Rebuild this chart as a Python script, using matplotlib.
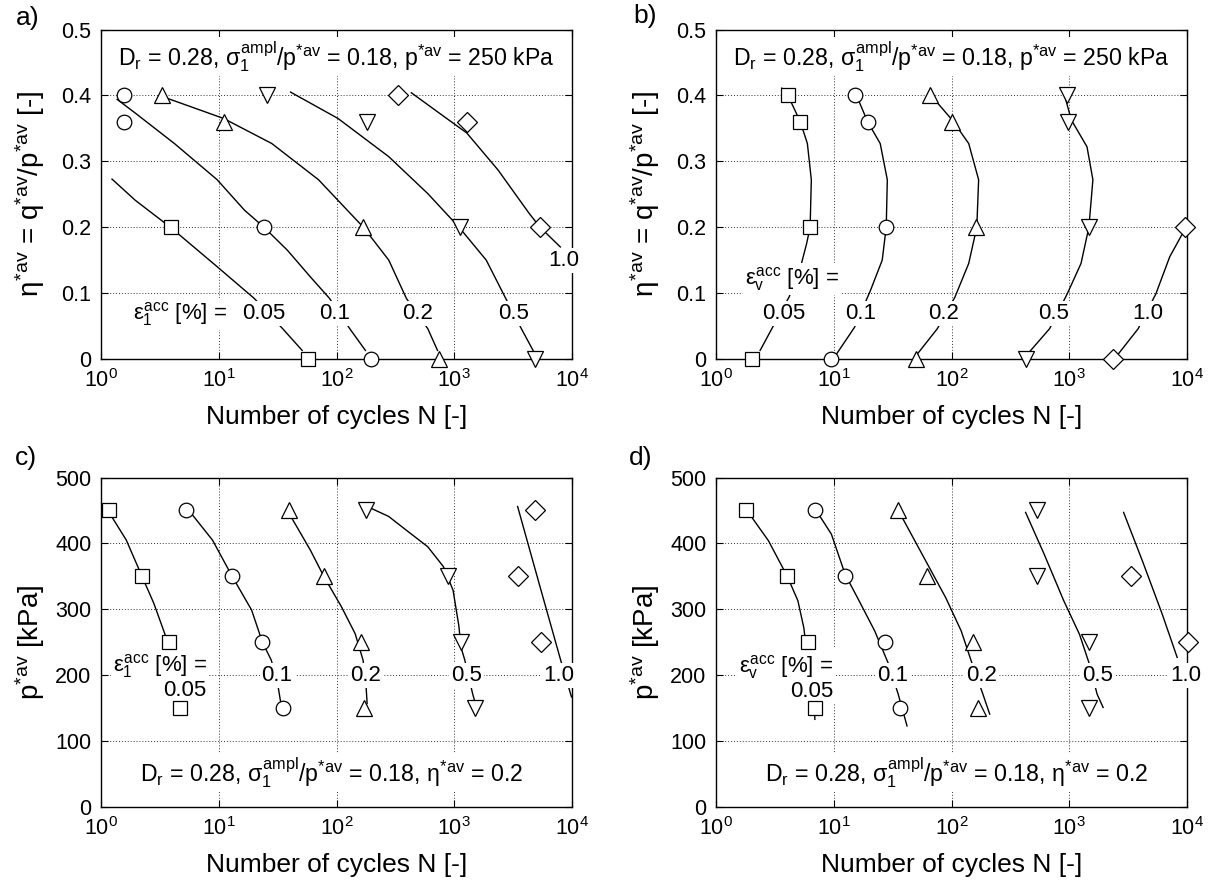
import numpy as np
import matplotlib.pyplot as plt
from matplotlib.ticker import LogLocator, FixedLocator, FuncFormatter

plt.rcParams['font.family'] = ['Liberation Sans', 'DejaVu Sans']
plt.rcParams['mathtext.fontset'] = 'custom'
plt.rcParams['mathtext.rm'] = 'Liberation Sans'
plt.rcParams['mathtext.it'] = 'Liberation Sans'
plt.rcParams['mathtext.bf'] = 'Liberation Sans:bold'
plt.rcParams['mathtext.sf'] = 'Liberation Sans'

# ---------------- data ----------------
LEVELS = ['0.05', '0.1', '0.2', '0.5', '1.0']
MARKERS = ['s', 'o', '^', 'v', 'D']
MSIZES = [10, 10.5, 11.5, 11.5, 10]

# a) eps_1^acc, eta variable
a_mark_N = [[3.9, 57], [1.56, 1.56, 24.2, 197], [3.3, 11, 169, 748],
            [25.8, 183, 1120, 4840], [336, 1276, 5350]]
a_mark_eta = [[0.2, 0.0], [0.4, 0.36, 0.2, 0.0], [0.4, 0.36, 0.2, 0.0],
              [0.4, 0.36, 0.2, 0.0], [0.4, 0.36, 0.2]]
a_curve_N = [[1.24, 1.95, 3.88, 6.14, 9.7, 20.0, 34.9, 51.1],
             [1.37, 1.96, 4.2, 9.7, 16.5, 24.2, 38.3, 60.4, 87.2, 129.6, 176],
             [3.6, 11.0, 28.2, 70.4, 169, 278, 392, 596, 721],
             [40.7, 103, 278, 596, 1122, 1870, 2735, 3714, 4670],
             [432, 748, 1277, 2350, 4325, 5350, 7960]]
a_curve_eta = [[0.273, 0.241, 0.2, 0.170, 0.140, 0.092, 0.046, 0.013],
               [0.394, 0.373, 0.327, 0.272, 0.226, 0.2, 0.165, 0.124, 0.092, 0.046, 0.013],
               [0.396, 0.365, 0.327, 0.272, 0.2, 0.150, 0.092, 0.046, 0.013],
               [0.405, 0.365, 0.307, 0.251, 0.198, 0.150, 0.092, 0.046, 0.013],
               [0.404, 0.373, 0.343, 0.287, 0.221, 0.2, 0.170]]

# b) eps_v^acc, eta variable
b_mark_N = [[4.06, 5.2, 6.3, 2.03], [15.2, 19.4, 27.9, 9.5], [66, 101, 160, 49.6],
            [962, 985, 1468, 429], [9700, 2333]]
b_mark_eta = [[0.4, 0.36, 0.2, 0.0], [0.4, 0.36, 0.2, 0.0], [0.4, 0.36, 0.2, 0.0],
              [0.4, 0.36, 0.2, 0.0], [0.2, 0.0]]
b_curve_N = [[3.62, 4.39, 5.2, 5.97, 6.45, 6.3, 5.88, 5.32, 4.2, 2.98, 2.37],
             [16.2, 19.4, 24.8, 28.5, 27.9, 25.8, 20.5, 15.0, 10.6],
             [70, 101, 140, 170, 164, 140, 107, 75.8, 51.5],
             [926, 1040, 1415, 1588, 1468, 1259, 962, 681, 445],
             [9330, 7130, 5445, 3850, 2620]]
b_curve_eta = [[0.411, 0.388, 0.360, 0.327, 0.272, 0.2, 0.175, 0.145, 0.095, 0.046, 0.013],
               [0.393, 0.36, 0.327, 0.272, 0.2, 0.150, 0.104, 0.048, 0.008],
               [0.396, 0.363, 0.327, 0.272, 0.2, 0.145, 0.094, 0.046, 0.008],
               [0.396, 0.363, 0.322, 0.272, 0.2, 0.145, 0.099, 0.046, 0.008],
               [0.193, 0.155, 0.099, 0.046, 0.008]]

# c) eps_1^acc, p variable
c_mark_N = [[1.16, 2.23, 3.81, 4.72], [5.26, 13.0, 23.5, 35], [39.3, 78, 160, 171],
            [177, 885, 1138, 1510], [4875, 3450, 5470]]
c_mark_p = [[450, 350, 250, 150], [450, 350, 250, 150], [450, 350, 250, 150],
            [450, 350, 250, 150], [450, 350, 250]]
c_curve_N = [[1.21, 1.64, 2.23, 2.81, 3.40, 3.81, 4.18, 4.51],
             [5.81, 8.85, 13.0, 19.0, 23.5, 27.9, 31.3, 33.7],
             [40.9, 59.9, 78, 110, 144, 168, 177, 182],
             [182, 277, 405, 595, 807, 977, 1096, 1138, 1229, 1432, 1511],
             [3452, 5260, 8010, 9900]]
c_curve_p = [[443, 405, 350, 309, 268, 243, 208, 157],
             [446, 405, 350, 299, 250, 223, 192, 157],
             [441, 390, 350, 304, 263, 223, 192, 157],
             [456, 441, 418, 395, 365, 329, 274, 243, 223, 172, 157],
             [456, 339, 223, 167]]

# d) eps_v^acc, p variable
d_mark_N = [[1.80, 4.03, 6.0, 6.9], [6.9, 12.5, 27.4, 36.7], [35.3, 61.5, 153, 167],
            [536, 536, 1482, 1482], [3375, 10160]]
d_mark_p = [[450, 350, 250, 150], [450, 350, 250, 150], [450, 350, 250, 150],
            [450, 350, 250, 150], [350, 250]]
d_curve_N = [[1.97, 2.79, 4.03, 4.96, 5.57, 5.70, 6.25, 6.75, 6.91],
             [7.58, 9.55, 12.5, 16.4, 22.3, 29.2, 35.3, 41.9],
             [38.2, 60.6, 89.1, 121, 150, 185, 211],
             [426, 611, 898, 1222, 1482, 1726, 1940],
             [2895, 4190, 6150, 8250]]
d_curve_p = [[442, 404, 350, 313, 272, 257, 227, 181, 133],
             [442, 414, 353, 313, 267, 217, 171, 123],
             [439, 373, 318, 267, 217, 171, 141],
             [447, 384, 313, 262, 217, 171, 151],
             [447, 373, 293, 227]]

# label anchors (data coordinates); None = the level is written under the epsilon label
a_lab = [(24, 0.0685), (95.5, 0.0685), (492, 0.0685), (3160, 0.0685), (8590, 0.15)]
b_lab = [(3.76, 0.0685), (16.9, 0.0685), (85, 0.0685), (735, 0.0685), (4670, 0.0685)]
c_lab = [None, (31.3, 200), (177, 200), (1277, 200), (7710, 200)]
d_lab = [None, (31.5, 200), (181, 200), (1727, 200), (9770, 200)]

EPS1 = r'$\varepsilon_1^{\mathregular{acc}}$ [%] ='
EPSV = r'$\varepsilon_v^{\mathregular{acc}}$ [%] ='
TOP_TXT = r'D$_\mathregular{r}$ = 0.28, $\sigma_1^{\mathregular{ampl}}$/p$^{\mathregular{*av}}$ = 0.18, p$^{\mathregular{*av}}$ = 250 kPa'
BOT_TXT = r'D$_\mathregular{r}$ = 0.28, $\sigma_1^{\mathregular{ampl}}$/p$^{\mathregular{*av}}$ = 0.18, $\eta^{\mathregular{*av}}$ = 0.2'
YLAB_ETA = r'$\eta^{\mathregular{*av}}$ = q$^{\mathregular{*av}}$/p$^{\mathregular{*av}}$ [-]'
YLAB_P = r'p$^{\mathregular{*av}}$ [kPa]'

TICK_FS = 15.5
LAB_FS = 16
INFO_FS = 16.7
AX_FS = 19
YAX_FS = 20
BOX = dict(fc='white', ec='none', pad=1.5)


def draw_panel(ax, cN, cy, mN, my, lab_xy, ymax, ystep):
    ax.set_xscale('log')
    ax.set_xlim(1, 1e4)
    ax.set_ylim(0, ymax)
    ax.xaxis.set_major_locator(LogLocator(base=10, numticks=10))
    ax.xaxis.set_minor_locator(FixedLocator([]))
    ax.yaxis.set_major_locator(FixedLocator(np.arange(0, ymax + ystep / 2, ystep)))
    ax.yaxis.set_major_formatter(FuncFormatter(lambda v, p: '%g' % round(v, 3)))
    ax.grid(True, which='major', color='#333333', ls=(0, (1, 2)), lw=0.7, zorder=0)
    ax.tick_params(direction='in', length=5, width=0.8, top=True, right=True,
                   labelsize=TICK_FS, pad=7)
    for s in ax.spines.values():
        s.set_linewidth(1.0)

    for xs, ys in zip(cN, cy):
        ax.plot(xs, ys, color='black', lw=1.0, zorder=2)
    for xs, ys, m, ms in zip(mN, my, MARKERS, MSIZES):
        ax.plot(xs, ys, ls='none', marker=m, ms=ms, mfc='white', mec='black',
                mew=0.9, zorder=5, clip_on=False)
    for lev, xy in zip(LEVELS, lab_xy):
        if xy is None:
            continue
        ax.text(xy[0], xy[1], lev, ha='center', va='center', fontsize=LAB_FS,
                zorder=4, bbox=BOX)


fig = plt.figure(figsize=(12.15, 8.91), dpi=100)
W, H = 1215.0, 891.0
aw, ah = 471, 329.5
pos = {'a': (101, 29.5), 'b': (716, 29.5), 'c': (101, 477.5), 'd': (716, 477.5)}
axes = {}
for k, (x0, y0) in pos.items():
    axes[k] = fig.add_axes([x0 / W, 1 - (y0 + ah) / H, aw / W, ah / H])

ax = axes['a']
draw_panel(ax, a_curve_N, a_curve_eta, a_mark_N, a_mark_eta, a_lab, 0.5, 0.1)
ax.text(4.7, 0.0685, EPS1, ha='center', va='center', fontsize=LAB_FS, zorder=4, bbox=BOX)
ax.text(0.5, 0.918, TOP_TXT, transform=ax.transAxes, ha='center', va='center',
        fontsize=INFO_FS, zorder=4, bbox=BOX)
ax.set_ylabel(YLAB_ETA, fontsize=YAX_FS, va='center')

ax = axes['b']
draw_panel(ax, b_curve_N, b_curve_eta, b_mark_N, b_mark_eta, b_lab, 0.5, 0.1)
ax.text(4.4, 0.122, EPSV, ha='center', va='center', fontsize=LAB_FS, zorder=4, bbox=BOX)
ax.text(0.5, 0.918, TOP_TXT, transform=ax.transAxes, ha='center', va='center',
        fontsize=INFO_FS, zorder=4, bbox=BOX)
ax.set_ylabel(YLAB_ETA, fontsize=YAX_FS, va='center')

ax = axes['c']
draw_panel(ax, c_curve_N, c_curve_p, c_mark_N, c_mark_p, c_lab, 500, 100)
ax.text(7.9, 198, EPS1 + '\n' + LEVELS[0], ha='right', va='center', multialignment='right',
        linespacing=1.0, fontsize=LAB_FS, zorder=4, bbox=BOX)
ax.text(0.49, 0.106, BOT_TXT, transform=ax.transAxes, ha='center', va='center',
        fontsize=INFO_FS, zorder=4, bbox=BOX)
ax.set_ylabel(YLAB_P, fontsize=YAX_FS, va='center')

ax = axes['d']
draw_panel(ax, d_curve_N, d_curve_p, d_mark_N, d_mark_p, d_lab, 500, 100)
ax.text(9.9, 197, EPSV + '\n' + LEVELS[0], ha='right', va='center', multialignment='right',
        linespacing=1.0, fontsize=LAB_FS, zorder=4, bbox=BOX)
ax.text(0.51, 0.106, BOT_TXT, transform=ax.transAxes, ha='center', va='center',
        fontsize=INFO_FS, zorder=4, bbox=BOX)
ax.set_ylabel(YLAB_P, fontsize=YAX_FS, va='center')

for k, ax in axes.items():
    ax.set_xlabel('Number of cycles N [-]', fontsize=AX_FS, va='center')
    ax.xaxis.set_label_coords(0.5, -0.175)
    ax.yaxis.set_label_coords(-0.15, 0.5)

for txt, (x, y) in zip(['a)', 'b)', 'c)', 'd)'], [(28, 18), (645, 16), (26, 458), (641, 458)]):
    fig.text(x / W, 1 - y / H, txt, ha='center', va='center', fontsize=AX_FS)

fig.savefig('out.png', dpi=100)
